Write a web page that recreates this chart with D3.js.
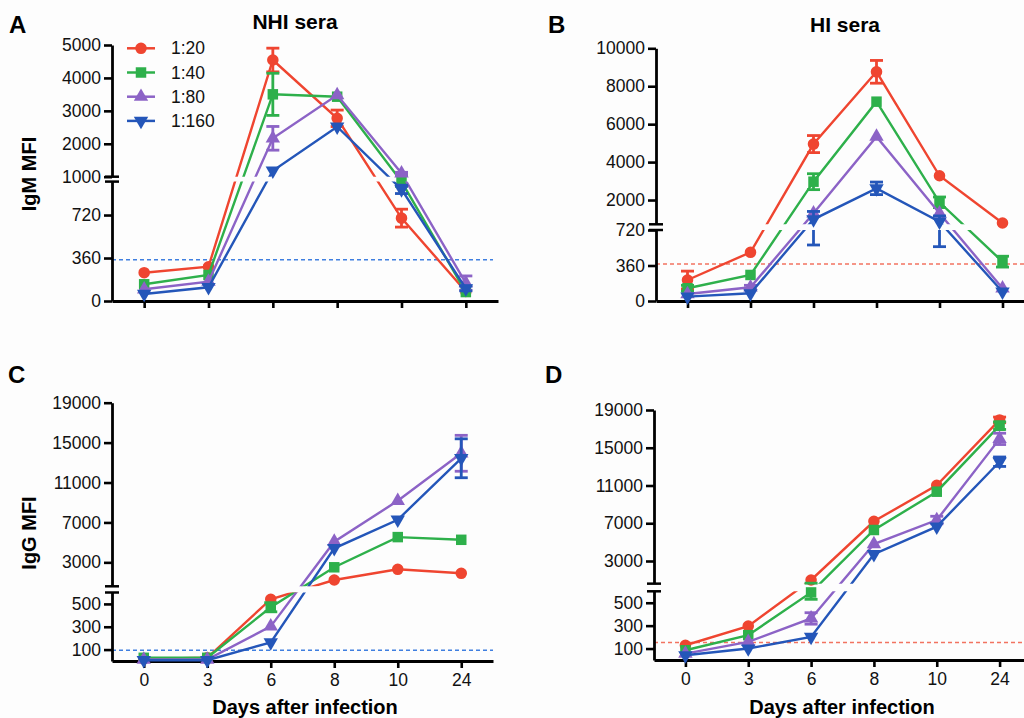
<!DOCTYPE html>
<html>
<head>
<meta charset="utf-8">
<script src="https://cdn.jsdelivr.net/npm/d3@7"></script>
<style>
  body { margin: 0; background: #fdfdfd; }
  svg { display: block; font-family: "Liberation Sans", Arial, sans-serif; }
</style>
</head>
<body>
<svg id="chart" width="1024" height="718"></svg>
<script>
const days = ["0", "3", "6", "8", "10", "24"];
const dilutions = ["1:20", "1:40", "1:80", "1:160"];

// mean MFI, one row per dilution (1:20, 1:40, 1:80, 1:160)
const igmNhi = [
  [237, 287, 4544, 2773, 694, 80],
  [140, 218, 3502, 3430, 1000, 75],
  [98, 162, 2166, 3481, 1103, 150],
  [59, 115, 1182, 2518, 935, 105]
];
const igmNhiErr = [
  [0, 0, 360, 250, 75, 0],
  [0, 0, 640, 0, 40, 0],
  [0, 0, 360, 0, 30, 60],
  [0, 0, 0, 0, 35, 20]
];
const igmHi = [
  [213, 494, 4950, 8760, 3280, 790],
  [129, 264, 2967, 7186, 1880, 399],
  [71, 139, 1300, 5340, 1300, 129],
  [44, 78, 983, 2617, 857, 94]
];
const igmHiErr = [
  [90, 0, 450, 600, 0, 0],
  [30, 0, 420, 0, 280, 55],
  [0, 20, 0, 0, 0, 0],
  [0, 0, 415, 330, 306, 0]
];
const iggNhi = [
  [19, 28, 541, 1232, 2304, 1903],
  [28, 28, 471, 2505, 5530, 5260],
  [13, 13, 303, 5070, 9170, 13930],
  [7, 7, 163, 4410, 7270, 13430]
];
const iggNhiErr = [
  [0, 0, 0, 0, 0, 0],
  [0, 0, 40, 0, 0, 0],
  [0, 0, 0, 0, 0, 1800],
  [0, 0, 0, 0, 0, 1950]
];
const iggHi = [
  [129, 296, 987, 7205, 11020, 17950],
  [85, 217, 590, 6285, 10343, 17340],
  [56, 158, 363, 4800, 7340, 15940],
  [41, 100, 202, 3720, 6640, 13520]
];
const iggHiErr = [
  [0, 0, 0, 0, 0, 300],
  [0, 0, 60, 0, 0, 400],
  [0, 0, 50, 0, 400, 600],
  [0, 0, 0, 0, 0, 500]
];
const cutoffs = [345, 375, 94, 153];

const igmTicksLowA = [0, 360, 720], igmTicksHighA = [1000, 2000, 3000, 4000, 5000];
const igmTicksLowB = [0, 360, 720], igmTicksHighB = [2000, 4000, 6000, 8000, 10000];
const iggTicksLow = [100, 300, 500], iggTicksHigh = [3000, 7000, 11000, 15000, 19000];

const colors = ["#ef4530", "#2eb04b", "#8c63c6", "#2456b9"];
const symbols = [d3.symbolCircle, d3.symbolSquare, d3.symbolTriangle, d3.symbolTriangle];
const symSize = [105, 110, 90, 90];

const svg = d3.select("#chart");

const panels = [
  { letter: "A", title: "NHI sera", ylabel: "IgM MFI", mean: igmNhi, err: igmNhiErr,
    cut: cutoffs[0], cutColor: "#3f7fe0", cutEnd: 493, legend: true, xlabel: false,
    x0: 112, x1: 498, yBottom: 301, lowTop: 181.6, upBottom: 176.7, yTop: 45,
    brk: 1000, upMax: 5000, ticksLow: igmTicksLowA, ticksHigh: igmTicksHighA,
    letterPos: [9, 33], titlePos: [295, 28.5], ylabelPos: [36, 174] },
  { letter: "B", title: "HI sera", ylabel: null, mean: igmHi, err: igmHiErr,
    cut: cutoffs[1], cutColor: "#f27360", cutEnd: 1024, legend: false, xlabel: false,
    x0: 656, x1: 1034, yBottom: 301, lowTop: 230, upBottom: 224.3, yTop: 48.3,
    brk: 720, upMax: 10000, ticksLow: igmTicksLowB, ticksHigh: igmTicksHighB,
    letterPos: [548, 33], titlePos: [845, 31.5] },
  { letter: "C", title: null, ylabel: "IgG MFI", mean: iggNhi, err: iggNhiErr,
    cut: cutoffs[2], cutColor: "#3f7fe0", cutEnd: 493, legend: false, xlabel: true,
    x0: 112, x1: 493, yBottom: 661, lowTop: 592.5, upBottom: 586.3, yTop: 402.7,
    brk: 600, upMax: 19000, ticksLow: iggTicksLow, ticksHigh: iggTicksHigh,
    letterPos: [8, 383], ylabelPos: [36, 533], xlabelPos: [305, 714] },
  { letter: "D", title: null, ylabel: null, mean: iggHi, err: iggHiErr,
    cut: cutoffs[3], cutColor: "#f27360", cutEnd: 1024, legend: false, xlabel: true,
    x0: 654, x1: 1031, yBottom: 660, lowTop: 591.3, upBottom: 583.65, yTop: 410,
    brk: 600, upMax: 19000, ticksLow: iggTicksLow, ticksHigh: iggTicksHigh,
    letterPos: [545, 383], xlabelPos: [842, 714] }
];

panels.forEach(function(p, pi) {
  const g = svg.append("g");
  const x = d3.scalePoint().domain(days).range([p.x0, p.x1]).padding(0.5);
  const yLow = d3.scaleLinear().domain([0, p.brk]).range([p.yBottom, p.lowTop]);
  const yHigh = d3.scaleLinear().domain([p.brk, p.upMax]).range([p.upBottom, p.yTop]);
  const y = v => v <= p.brk ? yLow(v) : yHigh(v);

  // clip regions for the two axis segments
  const defs = g.append("defs");
  defs.append("clipPath").attr("id", "low" + pi).append("rect")
    .attr("x", p.x0).attr("y", p.lowTop).attr("width", 1024 - p.x0).attr("height", p.yBottom - p.lowTop + 20);
  defs.append("clipPath").attr("id", "high" + pi).append("rect")
    .attr("x", p.x0).attr("y", p.yTop - 30).attr("width", 1024 - p.x0).attr("height", p.upBottom - p.yTop + 30);

  // cutoff line
  g.append("line")
    .attr("x1", p.x0).attr("x2", p.cutEnd)
    .attr("y1", y(p.cut)).attr("y2", y(p.cut))
    .attr("stroke", p.cutColor)
    .attr("stroke-width", 1.6).attr("stroke-dasharray", "4,3");

  // axes
  const fmt = d3.format("d");
  const axLow = g.append("g").attr("transform", "translate(" + p.x0 + ",0)")
    .call(d3.axisLeft(yLow).tickValues(p.ticksLow).tickFormat(fmt).tickSize(8).tickSizeOuter(0).tickPadding(3));
  const axHigh = g.append("g").attr("transform", "translate(" + p.x0 + ",0)")
    .call(d3.axisLeft(yHigh).tickValues(p.ticksHigh).tickFormat(fmt).tickSize(8).tickSizeOuter(0).tickPadding(3));
  const axX = g.append("g").attr("transform", "translate(0," + p.yBottom + ")")
    .call(d3.axisBottom(x).tickSize(7).tickSizeOuter(0).tickPadding(6)
      .tickFormat(p.xlabel ? (d => d) : () => ""));
  [axLow, axHigh, axX].forEach(function(a) {
    a.selectAll("path.domain").attr("stroke", "#000").attr("stroke-width", 2.8);
    a.selectAll(".tick line").attr("stroke", "#000").attr("stroke-width", 2.6);
    a.selectAll(".tick text").attr("font-size", 17.5).attr("fill", "#111")
      .attr("font-family", "'Liberation Sans', Arial, sans-serif");
  });
  // break marks
  [p.lowTop, p.upBottom].forEach(function(yy) {
    g.append("line").attr("x1", p.x0 - 7).attr("x2", p.x0 + 7)
      .attr("y1", yy).attr("y2", yy).attr("stroke", "#000").attr("stroke-width", 2.5);
  });

  // series
  p.mean.forEach(function(vals, si) {
    const col = colors[si];
    const line = d3.line().x((v, i) => x(days[i])).y(v => y(v));
    ["low", "high"].forEach(function(seg) {
      const sg = g.append("g").attr("clip-path", "url(#" + seg + pi + ")");
      sg.append("path").datum(vals).attr("d", line)
        .attr("fill", "none").attr("stroke", col).attr("stroke-width", 2.4);
      vals.forEach(function(v, i) {
        const e = p.err[si][i];
        if (e > 0) {
          sg.append("line").attr("x1", x(days[i])).attr("x2", x(days[i]))
            .attr("y1", y(Math.max(0, v - e))).attr("y2", y(v + e))
            .attr("stroke", col).attr("stroke-width", 2.8);
        }
      });
    });
    vals.forEach(function(v, i) {
      const e = p.err[si][i];
      if (e > 0) {
        [v - e, v + e].forEach(function(ev) {
          g.append("line").attr("x1", x(days[i]) - 6.5).attr("x2", x(days[i]) + 6.5)
            .attr("y1", y(Math.max(0, ev))).attr("y2", y(Math.max(0, ev)))
            .attr("stroke", col).attr("stroke-width", 2.8);
        });
      }
    });
    g.selectAll(null).data(vals).enter().append("path")
      .attr("d", d3.symbol().type(symbols[si]).size(symSize[si]))
      .attr("transform", (v, i) => "translate(" + x(days[i]) + "," + y(v) + ")" + (si === 3 ? " rotate(180)" : ""))
      .attr("fill", col);
  });

  // texts
  g.append("text").attr("x", p.letterPos[0]).attr("y", p.letterPos[1])
    .attr("font-size", 24).attr("font-weight", "bold").text(p.letter);
  if (p.title) {
    g.append("text").attr("x", p.titlePos[0]).attr("y", p.titlePos[1])
      .attr("text-anchor", "middle").attr("font-size", 21).attr("font-weight", "bold").text(p.title);
  }
  if (p.ylabel) {
    g.append("text")
      .attr("transform", "translate(" + p.ylabelPos[0] + "," + p.ylabelPos[1] + ") rotate(-90)")
      .attr("text-anchor", "middle").attr("font-size", 20).attr("font-weight", "bold").text(p.ylabel);
  }
  if (p.xlabel) {
    g.append("text").attr("x", p.xlabelPos[0]).attr("y", p.xlabelPos[1])
      .attr("text-anchor", "middle").attr("font-size", 20).attr("font-weight", "bold")
      .text("Days after infection");
  }

  if (p.legend) {
    const lg = g.append("g");
    dilutions.forEach(function(name, si) {
      const ly = 48.3 + si * 24.2;
      lg.append("line").attr("x1", 127).attr("x2", 155).attr("y1", ly).attr("y2", ly)
        .attr("stroke", colors[si]).attr("stroke-width", 2.5);
      lg.append("path").attr("d", d3.symbol().type(symbols[si]).size(symSize[si]))
        .attr("transform", "translate(141," + ly + ")" + (si === 3 ? " rotate(180)" : ""))
        .attr("fill", colors[si]);
      lg.append("text").attr("x", 171).attr("y", ly).attr("dy", "0.35em")
        .attr("font-size", 17.5).attr("fill", "#111").text(name);
    });
  }
});
</script>
</body>
</html>
